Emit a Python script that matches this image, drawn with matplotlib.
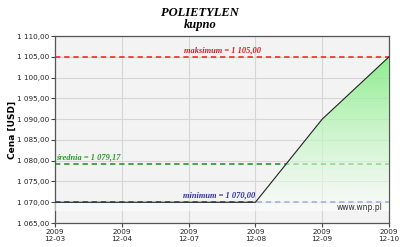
import matplotlib.pyplot as plt
import numpy as np
from matplotlib.colors import LinearSegmentedColormap
from matplotlib.patches import Polygon

dates = ['2009\n12-03', '2009\n12-04', '2009\n12-07', '2009\n12-08', '2009\n12-09', '2009\n12-10']
prices = [1070.0, 1070.0, 1070.0, 1070.0, 1090.0, 1105.0]
y_ticks = [1065, 1070, 1075, 1080, 1085, 1090, 1095, 1100, 1105, 1110]


def pl_fmt(v):
    s = f"{v:,.2f}"
    return s.replace(',', ' ').replace('.', ',')


x = np.arange(len(prices))
p_max = max(prices)
p_min = min(prices)
p_avg = float(np.mean(prices))

fig = plt.figure(figsize=(4, 2.47), dpi=100)
ax = fig.add_axes([0.1375, 0.097, 0.835, 0.757])
ax.set_facecolor('#f3f3f3')
ax.set_xlim(0, len(prices) - 1)
ax.set_ylim(1065, 1110)

ax.grid(True, color='#d6d6d6', linewidth=0.8)
ax.set_axisbelow(True)

# reference lines
ax.axhline(p_max, color='#ee1c1c', linestyle=(0, (3.5, 2.5)), linewidth=1.1, zorder=2)
ax.axhline(p_avg, color='#1e8c1e', linestyle=(0, (3.5, 2.5)), linewidth=1.1, zorder=2)
ax.axhline(p_min, color='#3a3ab0', linestyle=(0, (3.5, 2.5)), linewidth=1.1, zorder=2)

# gradient fill under the series (semi-transparent, so the dashed lines show through)
cmap = LinearSegmentedColormap.from_list('g', [(1, 1, 1, 0.55), (0.49, 0.925, 0.49, 0.85)])
grad = np.linspace(0, 1, 256).reshape(-1, 1)
im = ax.imshow(grad, cmap=cmap, aspect='auto', origin='lower',
               extent=[0, len(prices) - 1, 1068, 1105], zorder=3)
verts = [(0, 1065)] + list(zip(x, prices)) + [(len(prices) - 1, 1065)]
poly = Polygon(verts, closed=True, facecolor='none', edgecolor='none')
ax.add_patch(poly)
im.set_clip_path(poly)

ax.plot(x, prices, color='#222222', linewidth=0.8, zorder=4)

lab = dict(family='Liberation Serif', style='italic', weight='bold', fontsize=6)
ax.text(2.5, p_max + 0.6, 'maksimum = ' + pl_fmt(p_max), color='#d02020', ha='center', va='bottom', **lab)
ax.text(0.02, p_avg + 0.6, 'średnia = ' + pl_fmt(p_avg), color='#2a9a2a', ha='left', va='bottom', **lab)
ax.text(3.0, p_min + 0.6, 'minimum = ' + pl_fmt(p_min), color='#3030a0', ha='right', va='bottom', **lab)

ax.text(0.982, 0.06, 'www.wnp.pl', transform=ax.transAxes, ha='right', va='bottom',
        fontsize=5.5, color='#333333')

ax.set_xticks(x)
ax.set_xticklabels(dates)
ax.set_yticks(y_ticks)
ax.set_yticklabels([pl_fmt(v) for v in y_ticks])
ax.tick_params(labelsize=5.2, length=3, width=0.8, colors='#444444', labelcolor='#222222', pad=1.5)
for sp in ax.spines.values():
    sp.set_color('#555555')
    sp.set_linewidth(0.9)

ax.set_ylabel('Cena [USD]', fontsize=6.5, fontweight='bold', labelpad=0)

fig.text(0.5, 0.948, 'POLIETYLEN', ha='center', va='center', family='Liberation Serif',
         style='italic', weight='bold', fontsize=9)
fig.text(0.5, 0.898, 'kupno', ha='center', va='center', family='Liberation Serif',
         style='italic', weight='bold', fontsize=9)

fig.savefig('out.png', dpi=100)
